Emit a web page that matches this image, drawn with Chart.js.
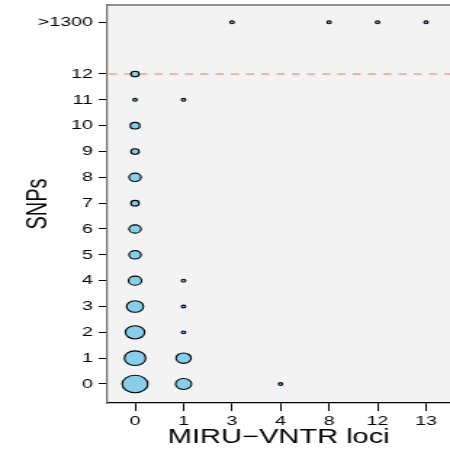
<!DOCTYPE html>
<html>
<head>
<meta charset="utf-8">
<script src="https://cdn.jsdelivr.net/npm/chart.js@4/dist/chart.umd.min.js"></script>
<style>
  html, body { margin: 0; padding: 0; background: #ffffff; }
</style>
</head>
<body>
<canvas id="c" width="310" height="449" style="display:block;width:450px;height:449px;"></canvas>
<script>
// ---- data ----
const xLabels = ['0', '1', '3', '4', '8', '12', '13'];
const yLabels = ['0', '1', '2', '3', '4', '5', '6', '7', '8', '9', '10', '11', '12', '>1300'];
const yTickValues = [0, 1, 2, 3, 4, 5, 6, 7, 8, 9, 10, 11, 12, 14];

// each point: MIRU-VNTR loci (x label), SNPs (y label), number of pairs (bubble size)
const pointLoci = ['0','0','0','0','0','0','0','0','0','0','0','0','0',
                   '1','1','1','1','1','1',
                   '3','4','8','12','13'];
const pointSnps = ['0','1','2','3','4','5','6','7','8','9','10','11','12',
                   '0','1','2','3','4','11',
                   '>1300','0','>1300','>1300','>1300'];
const pointCount = [24,17,14,11,7,6,6,3,6,3,4,1,3,
                    10,9,1,1,1,1,
                    1,1,1,1,1];
const thresholdSnps = 12;

// ---- build ----
const FONT = "'Liberation Sans', Arial, Helvetica, sans-serif";
const bubbles = pointCount.map((n, i) => ({
  x: xLabels.indexOf(pointLoci[i]),
  y: yTickValues[yLabels.indexOf(pointSnps[i])],
  r: 1.9 * Math.sqrt(n) - 0.5
}));

function noPad(s) {
  s.paddingTop = 0; s.paddingBottom = 0; s.paddingLeft = 0; s.paddingRight = 0;
}

const framePlugin = {
  id: 'frame',
  beforeDraw(chart) {
    const {ctx, chartArea: a} = chart;
    ctx.save();
    ctx.fillStyle = '#f3f3f3';
    ctx.fillRect(a.left, a.top, a.right - a.left, a.bottom - a.top);
    ctx.restore();
  },
  beforeDatasetsDraw(chart) {
    const {ctx, chartArea: a, scales} = chart;
    const y = scales.y.getPixelForValue(thresholdSnps);
    ctx.save();
    ctx.strokeStyle = '#f8b2a0';
    ctx.lineWidth = 1.8;
    ctx.setLineDash([5.5, 5]);
    ctx.beginPath();
    ctx.moveTo(a.left + 1, y);
    ctx.lineTo(a.right, y);
    ctx.stroke();
    ctx.restore();
  },
  afterDraw(chart) {
    const {ctx, chartArea: a} = chart;
    ctx.save();
    ctx.strokeStyle = '#6e6e6e';
    ctx.lineWidth = 1.6;
    ctx.beginPath();
    ctx.moveTo(a.left, a.top);
    ctx.lineTo(a.right, a.top);
    ctx.stroke();
    ctx.restore();
  }
};

new Chart(document.getElementById('c'), {
  type: 'bubble',
  data: {
    datasets: [{
      data: bubbles,
      backgroundColor: '#87ceeb',
      borderColor: '#000000',
      borderWidth: 1.1,
      hoverRadius: 0
    }]
  },
  options: {
    responsive: false,
    maintainAspectRatio: false,
    devicePixelRatio: 1,
    animation: false,
    events: [],
    layout: { autoPadding: false, padding: { top: 5, right: 0, left: 0, bottom: 0 } },
    plugins: { legend: { display: false }, tooltip: { enabled: false } },
    scales: {
      x: {
        type: 'linear',
        min: -0.569,
        max: 6.494,
        afterBuildTicks(s) { s.ticks = xLabels.map((_, i) => ({ value: i })); },
        afterFit(s) { s.height = 46; noPad(s); },
        border: { display: true, color: '#000000', width: 1.2 },
        grid: { display: true, drawOnChartArea: false, drawTicks: true, tickLength: 8, tickColor: '#000000', tickWidth: 1 },
        ticks: {
          autoSkip: false, maxRotation: 0, padding: 2, color: '#000000',
          font: { family: FONT, size: 13.5 },
          callback: (v) => xLabels[v]
        },
        title: {
          display: true, text: 'MIRU\u2212VNTR loci', color: '#000000',
          font: { family: FONT, size: 20 }, padding: { top: 0, bottom: 0 }
        }
      },
      y: {
        type: 'linear',
        min: -0.7355,
        max: 14.67,
        afterBuildTicks(s) { s.ticks = yTickValues.map(v => ({ value: v })); },
        afterFit(s) { s.width = 74; noPad(s); },
        border: { display: true, color: '#6e6e6e', width: 1.2 },
        grid: { display: true, drawOnChartArea: false, drawTicks: true, tickLength: 6, tickColor: '#000000', tickWidth: 1 },
        ticks: {
          autoSkip: false, padding: 4, color: '#000000',
          font: { family: FONT, size: 13.5 },
          callback: (v) => yLabels[yTickValues.indexOf(v)]
        },
        title: {
          display: true, text: 'SNPs', color: '#000000',
          font: { family: FONT, size: 20 }, padding: { top: 14, bottom: 0 }
        }
      }
    }
  },
  plugins: [framePlugin]
});
</script>
</body>
</html>
